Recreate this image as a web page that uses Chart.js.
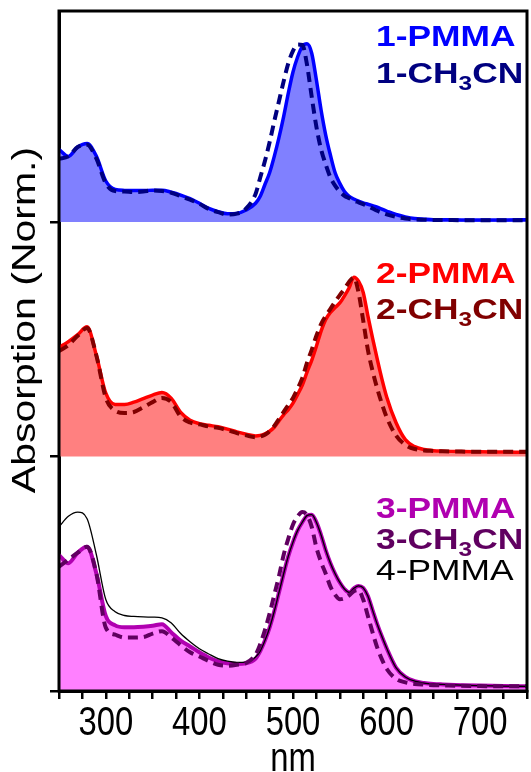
<!DOCTYPE html>
<html>
<head>
<meta charset="utf-8">
<script src="https://cdn.jsdelivr.net/npm/chart.js@4.4.1/dist/chart.umd.min.js"></script>
<style>
  html, body { margin: 0; padding: 0; background: #fff; }
</style>
</head>
<body>
<canvas id="chart" width="531" height="772"></canvas>
<script>
// wavelength grid (nm), shared by all spectra
const wavelengths = [250,260,270,280,290,300,310,320,330,340,350,360,370,380,390,400,410,420,430,440,450,
  460,465,470,475,480,485,490,495,500,505,510,515,520,525,530,535,540,545,550,555,560,565,570,575,580,585,590,595,600,
  610,620,630,640,650,660,680,700,725,750];

// normalized absorption (each panel from its own baseline)
const pmma1 = [0.31,0.28,0.32,0.335,0.28,0.175,0.139,0.135,0.134,0.134,0.136,0.136,0.127,0.115,0.10,0.08,0.058,0.044,0.035,0.037,0.051,
  0.08,0.11,0.16,0.21,0.28,0.36,0.45,0.55,0.64,0.705,0.75,0.76,0.72,0.606,0.478,0.37,0.285,0.21,0.165,0.13,0.11,0.098,0.089,0.082,0.076,0.07,0.064,0.055,0.047,
  0.032,0.022,0.015,0.012,0.01,0.01,0.009,0.009,0.009,0.01];
const acn1 = [0.27,0.28,0.32,0.33,0.27,0.165,0.132,0.13,0.128,0.13,0.135,0.132,0.125,0.11,0.095,0.078,0.056,0.042,0.032,0.036,0.058,
  0.12,0.19,0.26,0.34,0.43,0.515,0.6,0.677,0.73,0.757,0.755,0.67,0.534,0.406,0.31,0.245,0.19,0.155,0.13,0.112,0.102,0.092,0.084,0.076,0.068,0.058,0.048,0.04,0.033,
  0.022,0.015,0.011,0.01,0.009,0.009,0.008,0.008,0.008,0.008];
const pmma2 = [0.465,0.49,0.52,0.553,0.43,0.27,0.222,0.222,0.232,0.247,0.262,0.273,0.248,0.188,0.155,0.14,0.133,0.127,0.117,0.105,0.095,
  0.088,0.09,0.097,0.108,0.125,0.152,0.178,0.2,0.228,0.265,0.305,0.36,0.41,0.47,0.535,0.585,0.615,0.635,0.655,0.685,0.72,0.765,0.748,0.7,0.6,0.505,0.415,0.33,0.255,
  0.145,0.072,0.042,0.03,0.025,0.023,0.021,0.02,0.019,0.018];
const acn2 = [0.45,0.475,0.515,0.548,0.43,0.25,0.195,0.186,0.19,0.21,0.232,0.25,0.232,0.17,0.145,0.137,0.128,0.122,0.112,0.1,0.09,
  0.082,0.085,0.093,0.108,0.13,0.16,0.19,0.22,0.25,0.29,0.335,0.4,0.455,0.515,0.565,0.6,0.63,0.66,0.688,0.715,0.745,0.763,0.7,0.58,0.455,0.365,0.29,0.225,0.168,
  0.09,0.05,0.032,0.026,0.024,0.022,0.021,0.02,0.02,0.02];
const pmma3 = [0.58,0.545,0.59,0.615,0.5,0.32,0.28,0.272,0.272,0.274,0.278,0.285,0.25,0.215,0.19,0.165,0.143,0.127,0.118,0.115,0.118,
  0.138,0.17,0.215,0.27,0.34,0.42,0.5,0.575,0.635,0.685,0.72,0.748,0.752,0.72,0.665,0.6,0.545,0.5,0.463,0.435,0.42,0.438,0.448,0.44,0.405,0.345,0.285,0.232,0.183,
  0.1,0.06,0.042,0.034,0.03,0.028,0.025,0.023,0.021,0.02];
const acn3 = [0.53,0.56,0.59,0.615,0.5,0.27,0.24,0.228,0.228,0.23,0.245,0.255,0.228,0.195,0.165,0.147,0.128,0.112,0.108,0.112,0.12,
  0.155,0.2,0.26,0.33,0.41,0.49,0.58,0.65,0.71,0.745,0.763,0.75,0.7,0.612,0.55,0.5,0.445,0.41,0.391,0.395,0.408,0.425,0.43,0.39,0.32,0.25,0.185,0.135,0.095,
  0.052,0.037,0.03,0.027,0.025,0.024,0.022,0.021,0.02,0.02];
const pmma4 = [0.70,0.745,0.763,0.735,0.58,0.39,0.338,0.322,0.318,0.316,0.315,0.312,0.29,0.245,0.21,0.18,0.158,0.138,0.127,0.122,0.123,
  0.145,0.17,0.215,0.27,0.34,0.42,0.5,0.575,0.635,0.685,0.72,0.748,0.752,0.72,0.665,0.6,0.545,0.5,0.463,0.435,0.42,0.438,0.448,0.44,0.405,0.345,0.285,0.232,0.183,
  0.1,0.06,0.042,0.034,0.03,0.028,0.025,0.023,0.021,0.02];

const xTickLabels = [300, 400, 500, 600, 700];
const panelOffsets = [2, 1, 0];   // top, middle, bottom panel baselines

function pts(arr, off) {
  return wavelengths.map((w, i) => ({ x: w, y: arr[i] + off }));
}

function solid(label, arr, off, color, fillColor, width) {
  return {
    label, data: pts(arr, off), borderColor: color, borderWidth: width,
    backgroundColor: fillColor, fill: { value: off }, order: 3,
    pointRadius: 0, cubicInterpolationMode: 'monotone'
  };
}
function dashed(label, arr, off, color) {
  return {
    label, data: pts(arr, off), borderColor: color, borderWidth: 4,
    borderDash: [10, 6], fill: false, order: 1,
    pointRadius: 0, cubicInterpolationMode: 'monotone'
  };
}

const FONT = '"Liberation Sans", Arial, sans-serif';

// draws a legend-like label, with optional subscript
function label(c, x, y, color, bold, parts) {
  const w = bold ? 'bold ' : '';
  c.save();
  c.translate(x, y);
  c.scale(1.22, 1);
  c.fillStyle = color;
  c.textBaseline = 'alphabetic';
  c.textAlign = 'left';
  let px = 0;
  parts.forEach(p => {
    c.font = w + (p.sub ? '20px ' : '29px ') + FONT;
    c.fillText(p.t, px, p.sub ? 7 : 0);
    px += c.measureText(p.t).width;
  });
  c.restore();
}

const decor = {
  id: 'decor',
  afterDatasetsDraw(chart) {
    const c = chart.ctx, a = chart.chartArea;
    const xs = chart.scales.x;
    c.save();
    c.strokeStyle = '#000';
    c.lineWidth = 3;
    c.strokeRect(a.left, a.top, a.right - a.left, a.bottom - a.top);

    // x tick labels
    c.fillStyle = '#000';
    c.textAlign = 'center';
    c.textBaseline = 'alphabetic';
    c.font = '40px ' + FONT;
    xTickLabels.forEach(v => {
      c.save();
      c.translate(xs.getPixelForValue(v), 735);
      c.scale(0.82, 1);
      c.fillText(String(v), 0, 0);
      c.restore();
    });
    // x title
    c.save();
    c.translate((a.left + a.right) / 2, 771);
    c.scale(0.82, 1);
    c.fillText('nm', 0, 0);
    c.restore();
    // y title
    c.save();
    c.translate(35, 320);
    c.rotate(-Math.PI / 2);
    c.scale(1, 0.8);
    c.font = '41px ' + FONT;
    c.fillText('Absorption (Norm.)', 0, 0);
    c.restore();
    c.restore();

    label(c, 376, 46, '#0000ff', true, [{ t: '1-PMMA' }]);
    label(c, 376, 83, '#000080', true, [{ t: '1-CH' }, { t: '3', sub: true }, { t: 'CN' }]);
    label(c, 376, 283, '#ff0000', true, [{ t: '2-PMMA' }]);
    label(c, 376, 319, '#800000', true, [{ t: '2-CH' }, { t: '3', sub: true }, { t: 'CN' }]);
    label(c, 376, 518, '#b000b0', true, [{ t: '3-PMMA' }]);
    label(c, 376, 549, '#600060', true, [{ t: '3-CH' }, { t: '3', sub: true }, { t: 'CN' }]);
    label(c, 376, 580, '#000000', false, [{ t: '4-PMMA' }]);
  }
};

const chart = new Chart(document.getElementById('chart').getContext('2d'), {
  type: 'line',
  data: {
    datasets: [
      dashed('1-CH3CN', acn1, panelOffsets[0], '#000080'),
      dashed('2-CH3CN', acn2, panelOffsets[1], '#800000'),
      dashed('3-CH3CN', acn3, panelOffsets[2], '#600060'),
      { label: '4-PMMA', data: pts(pmma4, panelOffsets[2]), borderColor: '#000', borderWidth: 1.3,
        fill: false, order: 2, pointRadius: 0, cubicInterpolationMode: 'monotone' },
      solid('1-PMMA', pmma1, panelOffsets[0], '#0000ff', '#8080ff', 3.5),
      solid('2-PMMA', pmma2, panelOffsets[1], '#ff0000', '#ff8080', 3.5),
      solid('3-PMMA', pmma3, panelOffsets[2], '#b000b0', '#ff80ff', 4)
    ]
  },
  options: {
    responsive: false,
    animation: false,
    layout: { padding: { top: 11, right: 4, left: 0, bottom: 0 } },
    plugins: { legend: { display: false }, tooltip: { enabled: false } },
    scales: {
      x: {
        type: 'linear', min: 250, max: 750,
        afterBuildTicks: s => {
          const t = [];
          for (let v = 250; v <= 750; v += 25) t.push({ value: v });
          s.ticks = t;
        },
        afterFit: s => { s.height = 81; },
        ticks: { display: false },
        grid: { drawOnChartArea: false, drawTicks: true, tickLength: 8, color: '#000', lineWidth: 2.5 },
        border: { display: true, color: '#000', width: 3 }
      },
      y: {
        type: 'linear', min: 0, max: 2.9,
        afterBuildTicks: s => { s.ticks = panelOffsets.map(v => ({ value: v })); },
        afterFit: s => { s.width = 59; },
        ticks: { display: false },
        grid: { drawOnChartArea: false, drawTicks: true, tickLength: 9, color: '#000', lineWidth: 2.5 },
        border: { display: true, color: '#000', width: 3 }
      }
    }
  },
  plugins: [decor]
});
</script>
</body>
</html>
